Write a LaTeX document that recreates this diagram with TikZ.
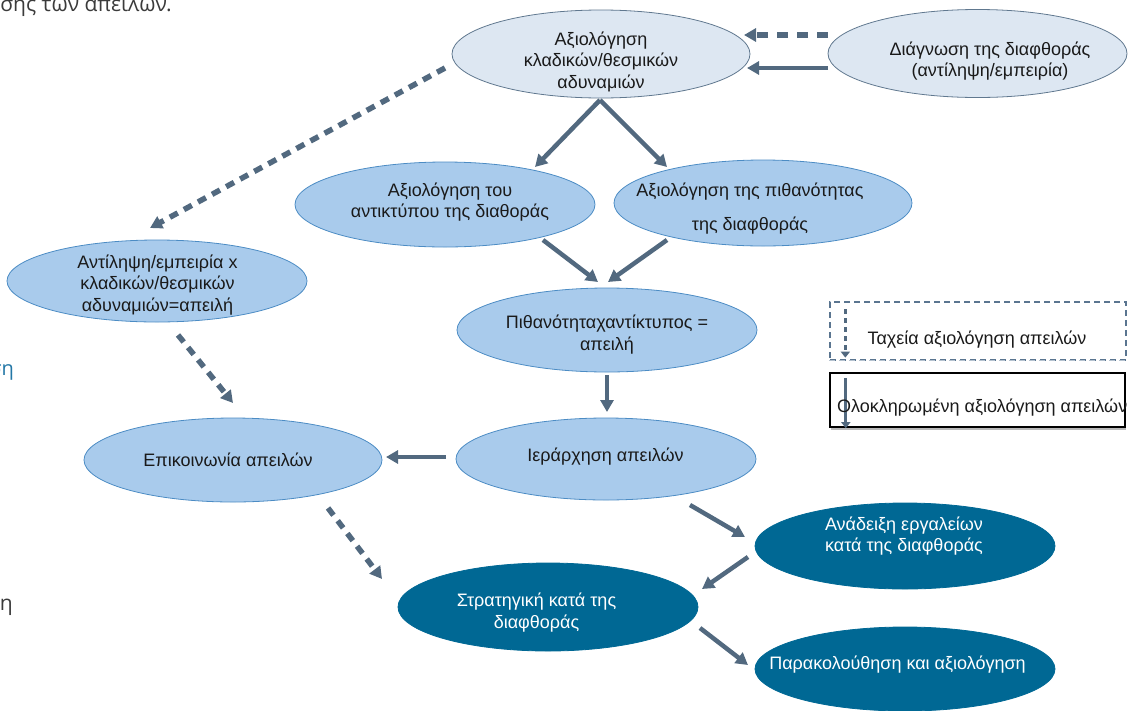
\documentclass[tikz,border=0pt]{standalone}
\usepackage{fontspec}
\setmainfont{Liberation Sans}
\newfontfamily\notefont{Open Sans}
\usetikzlibrary{shapes.geometric,arrows.meta,calc}
\definecolor{arrc}{HTML}{52697F}
\definecolor{palefill}{HTML}{DDE7F2}
\definecolor{paleline}{HTML}{60788F}
\definecolor{lightfill}{HTML}{A9CBEC}
\definecolor{lightline}{HTML}{4C8CC4}
\definecolor{darkfill}{HTML}{006894}
\definecolor{txtc}{HTML}{1A1A1A}
\definecolor{legc}{HTML}{5A7590}
\definecolor{legshade}{HTML}{B5C2CF}
\definecolor{straygray}{HTML}{3B3B3B}
\definecolor{strayblue}{HTML}{2377A6}
\begin{document}
\begin{tikzpicture}[x=1pt,y=-1pt,
  ell/.style={ellipse, inner sep=0pt, minimum width=300pt, minimum height=86pt, line width=0.8pt},
  paleell/.style={ell, fill=palefill, draw=paleline},
  lightell/.style={ell, fill=lightfill, draw=lightline},
  darkell/.style={ell, fill=darkfill, draw=darkfill},
  txt/.style={font=\fontsize{18}{21.5}\selectfont, align=center, inner sep=0pt, text=txtc},
  wtxt/.style={txt, text=white},
  arr/.style={draw=arrc, line width=4.5pt, -{Triangle[length=12pt,width=13pt]}},
  darr/.style={arr, line width=5.5pt, dash pattern=on 9pt off 7pt},
  note/.style={anchor=base east, inner sep=0pt},
]
\useasboundingbox (0,0) rectangle (1132,710);

% caption fragments running in from the page edges
\node[note, font=\notefont\fontsize{21}{25}\selectfont, text=straygray] (note1) at (172,11) {ησης των απειλών.};
\node[note, font=\notefont\fontsize{20}{24}\selectfont, text=strayblue] (note2) at (14,375) {ση};
\node[note, font=\notefont\fontsize{21}{25}\selectfont, text=straygray] (note3) at (13,610) {η};

% ellipses
\node[paleell, minimum width=298pt, minimum height=88pt] (top) at (601,54) {};
\node[paleell, minimum width=299pt, minimum height=88pt] (diag) at (977.5,53.5) {};
\node[lightell, minimum height=85pt] (imp) at (445,204.5) {};
\node[lightell, minimum width=298pt] (prob) at (763,203) {};
\node[lightell, minimum height=82pt] (ant) at (157,281) {};
\node[lightell, minimum height=84pt] (pxa) at (607,330) {};
\node[lightell, minimum width=298pt, minimum height=84pt] (epi) at (233,460) {};
\node[lightell, minimum height=82pt] (ier) at (606,459) {};
\node[darkell] (ana) at (905,546) {};
\node[darkell, minimum height=88pt] (str) at (548,607) {};
\node[darkell, minimum height=84pt] (par) at (905,669) {};

% texts
\node[txt] (topt) at (601,61.5) {Αξιολόγηση\\κλαδικών/θεσμικών\\αδυναμιών};
\node[txt] (diagt) at (990,61) {Διάγνωση της διαφθοράς\\(αντίληψη/εμπειρία)};
\node[txt] (impt) at (450,202) {Αξιολόγηση του\\αντικτύπου της διαθοράς};
\node[txt] (probt) at (750,209) {Αξιολόγηση της πιθανότητας\\[12.5pt]της διαφθοράς};
\node[txt] (antt) at (157.5,285) {Αντίληψη/εμπειρία x\\κλαδικών/θεσμικών\\αδυναμιών=απειλή};
\node[txt] (pxat) at (607,334.5) {Πιθανότηταχαντίκτυπος =\\απειλή};
\node[txt] (epit) at (228,460) {Επικοινωνία απειλών};
\node[txt] (iert) at (605.5,457) {Ιεράρχηση απειλών};
\node[wtxt] (anat) at (904,536) {Ανάδειξη εργαλείων\\κατά της διαφθοράς};
\node[wtxt] (strt) at (536.5,612.5) {Στρατηγική κατά της\\διαφθοράς};
\node[wtxt] (part) at (897.5,665) {Παρακολούθηση και αξιολόγηση};

% connectors
\draw[darr, line width=6.5pt, dash pattern=on 11pt off 9pt] ($(diag)+(-149.5,-18.5)$) -- ($(top)+(143,-19)$);
\draw[arr] ($(diag)+(-149.5,14.5)$) -- ($(top)+(146,14)$);
\draw[arr] ($(top)+(-1,46)$) -- ($(imp)+(90,-37.5)$);
\draw[arr] ($(top)+(-1,46)$) -- ($(prob)+(-96,-36)$);
\draw[arr] ($(imp)+(98,35.5)$) -- ($(pxa)+(-9,-48)$);
\draw[arr] ($(prob)+(-96,37)$) -- ($(pxa)+(1,-48)$);
\draw[arr] ($(pxa)+(0,45)$) -- ($(ier)+(1,-47)$);
\draw[arr] ($(ier)+(-160,-2)$) -- ($(epi)+(153,-3)$);
\draw[darr] ($(top)+(-156,14)$) -- ($(ant)+(-7,-53)$);
\draw[darr] ($(ant)+(21,54)$) -- ($(epi)+(0,-57)$);
\draw[darr] ($(epi)+(95,48)$) -- ($(str)+(-166,-28)$);
\draw[arr] ($(ier)+(84,46)$) -- ($(ana)+(-160,-9)$);
\draw[arr] ($(ana)+(-157,11)$) -- ($(str)+(154,-18)$);
\draw[arr] ($(str)+(152,21)$) -- ($(par)+(-157,-4)$);

% legend
\node[draw=legc, line width=1.3pt, dash pattern=on 6pt off 4pt, minimum width=296pt, minimum height=58pt, inner sep=0pt] (leg1) at (978,331) {};
\draw[legshade, line width=1.6pt, dash pattern=on 6pt off 4pt] (leg1.south west) -- (leg1.south east);
\draw[arrc, line width=3pt, dash pattern=on 5pt off 4pt, -{Triangle[length=6pt,width=9pt]}] ($(leg1.north west)+(16,8)$) -- ($(leg1.south west)+(16,-3)$);
\node[txt] (leg1t) at (977,340) {Ταχεία αξιολόγηση απειλών};

\node[minimum width=295pt, minimum height=54pt, inner sep=0pt] (leg2) at (977.5,400) {};
\draw[gray!55, line width=2pt] ($(leg2.south west)+(1,2)$) -- ($(leg2.south east)+(1,2)$);
\draw[black, line width=2pt] (leg2.north west) rectangle (leg2.south east);
\draw[arrc, line width=3pt, -{Triangle[length=6pt,width=9pt]}] ($(leg2.north west)+(16,5)$) -- ($(leg2.south west)+(16,1)$);
\node[txt, anchor=west] (leg2t) at (837,408) {Ολοκληρωμένη αξιολόγηση απειλών};
\end{tikzpicture}
\end{document}
